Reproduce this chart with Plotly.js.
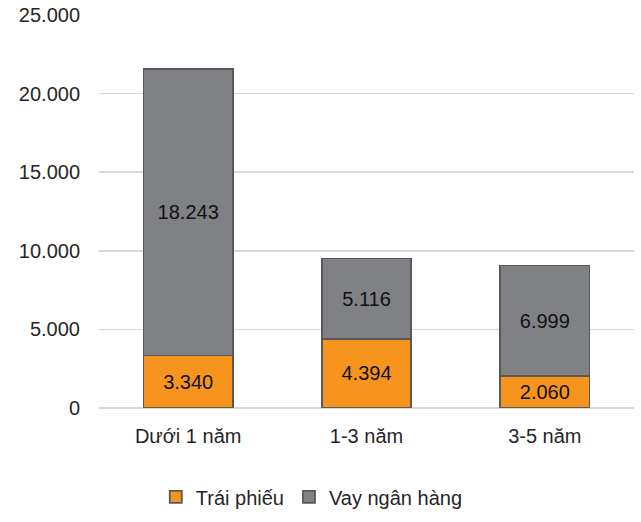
<!DOCTYPE html>
<html><head><meta charset="utf-8">
<script src="https://cdn.plot.ly/plotly-3.0.1.min.js"></script>
<style>html,body{margin:0;padding:0;background:#fff}</style>
</head><body>
<div id="chart" style="width:641px;height:522px"></div>
<script>
const categories = ["Dưới 1 năm", "1-3 năm", "3-5 năm"];
const traiPhieu = [3340, 4394, 2060];
const vayNganHang = [18243, 5116, 6999];
const tickVals = [0, 5000, 10000, 15000, 20000, 25000];

const FONT = "Liberation Sans, Arial";
const lineStyle = {color: "#595959", width: 1.8};
const traces = [
  {type: "bar", name: "Trái phiếu", x: categories, y: traiPhieu,
   marker: {color: "#F7941D", line: lineStyle},
   texttemplate: "%{y:,.0f}", textposition: "inside", insidetextanchor: "middle",
   textfont: {color: "#111", size: 20, family: FONT}, hoverinfo: "none"},
  {type: "bar", name: "Vay ngân hàng", x: categories, y: vayNganHang,
   marker: {color: "#808184", line: lineStyle},
   texttemplate: "%{y:,.0f}", textposition: "inside", insidetextanchor: "middle",
   textfont: {color: "#111", size: 20, family: FONT}, hoverinfo: "none"}
];
const layout = {
  width: 641, height: 522,
  margin: {l: 99, r: 7, t: 15, b: 114},
  barmode: "stack", bargap: 0.5,
  separators: ",.",
  font: {family: FONT, size: 20, color: "#262626"},
  paper_bgcolor: "#fff", plot_bgcolor: "#fff",
  xaxis: {showgrid: false, showline: false, zeroline: false, ticks: "", ticklen: 0,
          ticklabelstandoff: 14, tickfont: {size: 20, color: "#262626"}},
  yaxis: {range: [0, 25000], tickvals: tickVals, tickformat: ",.0f",
          showgrid: true, gridcolor: "#d9d9d9", gridwidth: 1.5,
          zeroline: true, zerolinecolor: "#d9d9d9", zerolinewidth: 1.5,
          showline: false, ticks: "", ticklabelstandoff: 18,
          tickfont: {size: 20, color: "#262626"}},
  showlegend: true,
  legend: {orientation: "h", xref: "container", x: 0.243, xanchor: "left",
           yref: "container", y: 0.048, yanchor: "middle",
           font: {size: 20, color: "#262626"}, traceorder: "normal", itemwidth: 30}
};
Plotly.newPlot("chart", traces, layout, {displayModeBar: false, staticPlot: true});
</script>
</body></html>
